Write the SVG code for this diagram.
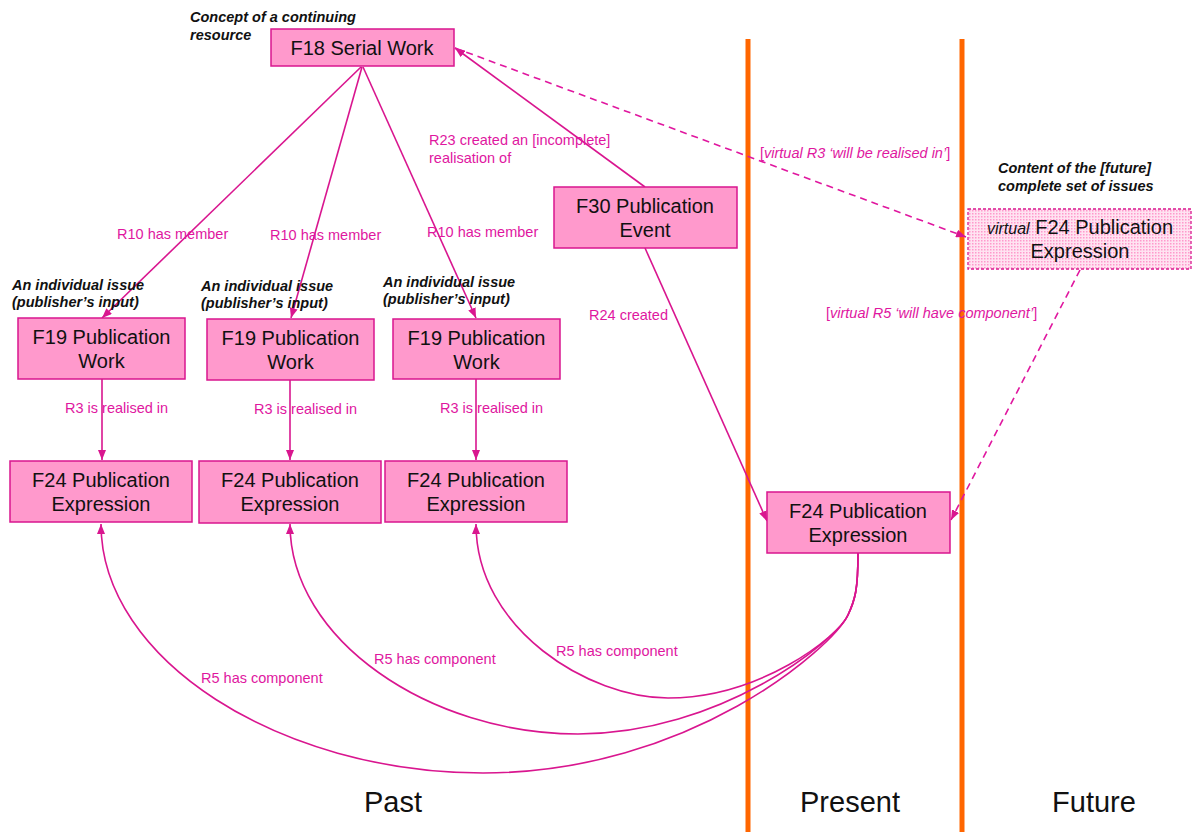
<svg xmlns="http://www.w3.org/2000/svg" width="1192" height="832" viewBox="0 0 1192 832">
<style>
.box{fill:#ff99cc;stroke:#d9168f;stroke-width:1.5}
.vbox{fill:url(#dots);stroke:#d9168f;stroke-width:1.3;stroke-dasharray:3 2}
.nt{font-family:"Liberation Sans",Arial,sans-serif;font-size:20px;fill:#111;text-anchor:middle}
.ann{font-family:"Liberation Sans",Arial,sans-serif;font-size:14.5px;font-weight:bold;font-style:italic;fill:#111}
.lbl{font-family:"Liberation Sans",Arial,sans-serif;font-size:14.5px;fill:#e0179f}
.era{font-family:"Liberation Sans",Arial,sans-serif;font-size:29px;fill:#111;text-anchor:middle}
.ln{fill:none;stroke:#d9168f;stroke-width:1.6}
.dash{fill:none;stroke:#e0179f;stroke-width:1.6;stroke-dasharray:7 5}
.orange{stroke:#ff6600;stroke-width:5}
</style>
<defs>
<marker id="ah" viewBox="0 0 10 8" refX="10" refY="4" markerWidth="10" markerHeight="8" markerUnits="userSpaceOnUse" orient="auto">
<path d="M0,0 L10,4 L0,8 z" fill="#d9168f"/>
</marker>
<pattern id="dots" width="3" height="3" patternUnits="userSpaceOnUse">
<rect width="3" height="3" fill="#ffe3f1"/>
<rect width="1.5" height="1.5" fill="#ff99cc"/>
</pattern>
</defs>
<rect width="1192" height="832" fill="#ffffff"/>
<g id="timeline">
<line class="orange" x1="748" y1="39" x2="748" y2="832"/>
<line class="orange" x1="962" y1="39" x2="962" y2="832"/>
<text class="era" x="393" y="812">Past</text>
<text class="era" x="850" y="812">Present</text>
<text class="era" x="1094" y="812">Future</text>
</g>
<g id="connectors">
<line class="ln" x1="361" y1="67" x2="102" y2="318" marker-end="url(#ah)"/>
<line class="ln" x1="362" y1="67" x2="291" y2="318" marker-end="url(#ah)"/>
<line class="ln" x1="363" y1="67" x2="476" y2="318" marker-end="url(#ah)"/>
<line class="ln" x1="645" y1="187" x2="455" y2="48" marker-end="url(#ah)"/>
<line class="dash" x1="455" y1="48" x2="966" y2="237" marker-end="url(#ah)"/>
<line class="ln" x1="645" y1="248" x2="767" y2="521" marker-end="url(#ah)"/>
<line class="dash" x1="1080" y1="270" x2="951" y2="520" marker-end="url(#ah)"/>
<line class="ln" x1="102" y1="379" x2="102" y2="460" marker-end="url(#ah)"/>
<line class="ln" x1="290" y1="380" x2="290" y2="460" marker-end="url(#ah)"/>
<line class="ln" x1="476" y1="379" x2="476" y2="460" marker-end="url(#ah)"/>
<path class="ln" d="M858,553 C858,590 855,600 848,615 C838,637 760,698 668,698 C590,698 476,630 476,524" marker-end="url(#ah)"/>
<path class="ln" d="M858,553 C858,590 855,600 848,615 C836,641 720,734 578,734 C430,734 290,640 290,524" marker-end="url(#ah)"/>
<path class="ln" d="M858,553 C858,590 855,600 848,615 C833,647 690,773 483,773 C280,773 101,660 101,524" marker-end="url(#ah)"/>
<text class="lbl" x="117" y="239">R10 has member</text>
<text class="lbl" x="270" y="240">R10 has member</text>
<text class="lbl" x="427" y="237">R10 has member</text>
<text class="lbl" x="429" y="145">R23 created an [incomplete]</text>
<text class="lbl" x="429" y="163">realisation of</text>
<text class="lbl" x="760" y="158">[<tspan font-style="italic">virtual R3 ‘will be realised in’</tspan>]</text>
<text class="lbl" x="589" y="320">R24 created</text>
<text class="lbl" x="826" y="318">[<tspan font-style="italic">virtual R5 ‘will have component’</tspan>]</text>
<text class="lbl" x="65" y="413">R3 is realised in</text>
<text class="lbl" x="254" y="414">R3 is realised in</text>
<text class="lbl" x="440" y="413">R3 is realised in</text>
<text class="lbl" x="201" y="683">R5 has component</text>
<text class="lbl" x="374" y="664">R5 has component</text>
<text class="lbl" x="556" y="656">R5 has component</text>
</g>
<g id="f18">
<rect class="box" x="271" y="29" width="183" height="37"/>
<text class="nt" x="362" y="55">F18 Serial Work</text>
<text class="ann" x="190" y="22">Concept of a continuing</text>
<text class="ann" x="190" y="40">resource</text>
</g>
<g id="f30">
<rect class="box" x="554" y="187" width="183" height="61"/>
<text class="nt" x="645" y="213">F30 Publication</text>
<text class="nt" x="645" y="237">Event</text>
</g>
<g id="f24-virtual">
<rect class="vbox" x="968" y="209" width="223" height="60"/>
<text class="nt" x="1080" y="234"><tspan font-style="italic" font-size="16px">virtual</tspan> F24 Publication</text>
<text class="nt" x="1080" y="258">Expression</text>
<text class="ann" x="998" y="173">Content of the [future]</text>
<text class="ann" x="998" y="191">complete set of issues</text>
</g>
<g id="f19-1">
<rect class="box" x="18" y="318" width="167" height="61"/>
<text class="nt" x="101.5" y="344">F19 Publication</text>
<text class="nt" x="101.5" y="368">Work</text>
<text class="ann" x="12" y="290">An individual issue</text>
<text class="ann" x="12" y="307">(publisher’s input)</text>
</g>
<g id="f19-2">
<rect class="box" x="207" y="319" width="167" height="61"/>
<text class="nt" x="290.5" y="345">F19 Publication</text>
<text class="nt" x="290.5" y="369">Work</text>
<text class="ann" x="201" y="291">An individual issue</text>
<text class="ann" x="201" y="308">(publisher’s input)</text>
</g>
<g id="f19-3">
<rect class="box" x="393" y="319" width="167" height="60"/>
<text class="nt" x="476.5" y="345">F19 Publication</text>
<text class="nt" x="476.5" y="369">Work</text>
<text class="ann" x="383" y="287">An individual issue</text>
<text class="ann" x="383" y="304">(publisher’s input)</text>
</g>
<g id="f24-1">
<rect class="box" x="10" y="461" width="182" height="61"/>
<text class="nt" x="101" y="487">F24 Publication</text>
<text class="nt" x="101" y="511">Expression</text>
</g>
<g id="f24-2">
<rect class="box" x="199" y="461" width="182" height="62"/>
<text class="nt" x="290" y="487">F24 Publication</text>
<text class="nt" x="290" y="511">Expression</text>
</g>
<g id="f24-3">
<rect class="box" x="385" y="461" width="182" height="61"/>
<text class="nt" x="476" y="487">F24 Publication</text>
<text class="nt" x="476" y="511">Expression</text>
</g>
<g id="f24-present">
<rect class="box" x="767" y="492" width="183" height="61"/>
<text class="nt" x="858" y="518">F24 Publication</text>
<text class="nt" x="858" y="542">Expression</text>
</g>
</svg>
